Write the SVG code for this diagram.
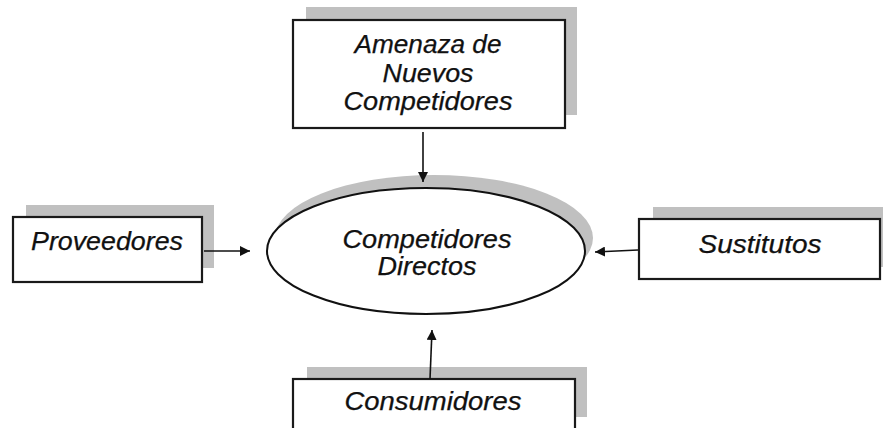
<svg xmlns="http://www.w3.org/2000/svg" width="883" height="428" viewBox="0 0 883 428">
<style>
.shadow{fill:#c0c0c0;stroke:none}
.box{fill:#ffffff;stroke:#1a1a1a;stroke-width:2.2}
.t{font-family:"Liberation Sans",Arial,sans-serif;font-style:italic;font-size:25px;fill:#111;text-anchor:middle;stroke:#111;stroke-width:0.25}
.c{stroke:#111;stroke-width:1.6;fill:none}
</style>
<defs>
<marker id="ah" viewBox="0 0 10 10" refX="10" refY="5" markerWidth="10" markerHeight="10" markerUnits="userSpaceOnUse" orient="auto">
<path d="M0,0 L10,5 L0,10 Z" fill="#111"/>
</marker>
</defs>
<rect width="883" height="428" fill="#ffffff"/>
<g id="amenaza">
<rect class="shadow" x="306" y="7" width="271" height="108"/>
<rect class="box" x="293" y="20" width="272" height="108"/>
<text class="t" x="428" y="53" textLength="147" lengthAdjust="spacingAndGlyphs">Amenaza de</text>
<text class="t" x="428" y="82" textLength="91" lengthAdjust="spacingAndGlyphs">Nuevos</text>
<text class="t" x="428" y="110" textLength="169" lengthAdjust="spacingAndGlyphs">Competidores</text>
</g>
<g id="proveedores">
<rect class="shadow" x="26" y="205" width="188" height="63"/>
<rect class="box" x="13" y="217" width="189" height="65"/>
<text class="t" x="107" y="250" textLength="152" lengthAdjust="spacingAndGlyphs">Proveedores</text>
</g>
<g id="sustitutos">
<rect class="shadow" x="653" y="207" width="232" height="60"/>
<rect class="box" x="639" y="219" width="241" height="60"/>
<text class="t" x="760" y="253" textLength="123" lengthAdjust="spacingAndGlyphs">Sustitutos</text>
</g>
<g id="consumidores">
<rect class="shadow" x="307" y="367" width="280" height="50"/>
<rect class="box" x="293" y="379" width="282" height="60"/>
<text class="t" x="433" y="410" textLength="177" lengthAdjust="spacingAndGlyphs">Consumidores</text>
</g>
<g id="competidores-directos">
<ellipse class="shadow" cx="434" cy="238" rx="159" ry="63"/>
<ellipse cx="426" cy="251" rx="159" ry="63" fill="#ffffff" stroke="#111" stroke-width="2"/>
<text class="t" x="427" y="248" textLength="169" lengthAdjust="spacingAndGlyphs">Competidores</text>
<text class="t" x="427" y="275" textLength="99" lengthAdjust="spacingAndGlyphs">Directos</text>
</g>
<g id="connectors">
<line class="c" x1="423" y1="132" x2="423" y2="182" marker-end="url(#ah)"/>
<line class="c" x1="204" y1="251" x2="250" y2="251" marker-end="url(#ah)"/>
<line class="c" x1="638" y1="250" x2="595" y2="252" marker-end="url(#ah)"/>
<line class="c" x1="430" y1="379" x2="432" y2="330" marker-end="url(#ah)"/>
</g>
</svg>
